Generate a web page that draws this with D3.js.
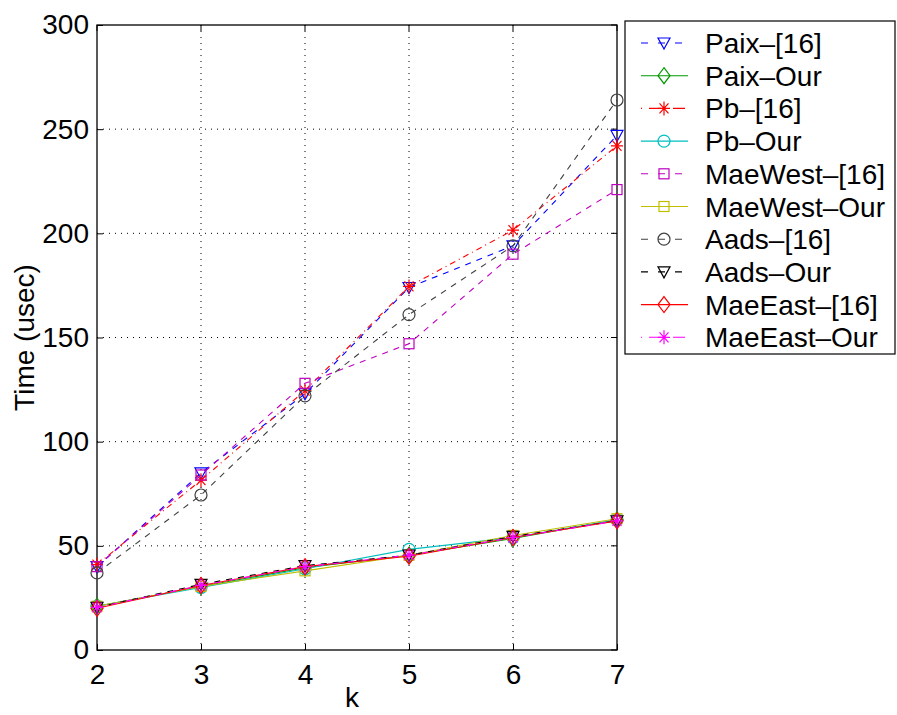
<!DOCTYPE html>
<html><head><meta charset="utf-8">
<script src="https://cdn.jsdelivr.net/npm/d3@7"></script>
<style>body{margin:0;background:#fff}svg{display:block}text{font-family:"Liberation Sans",Arial,sans-serif}</style>
</head><body><svg id="c" width="897" height="715"></svg>
<script>
const kValues = [2, 3, 4, 5, 6, 7];
const yTicks = [0, 50, 100, 150, 200, 250, 300];
const seriesNames = ["Paix\u2013[16]", "Paix\u2013Our", "Pb\u2013[16]", "Pb\u2013Our", "MaeWest\u2013[16]", "MaeWest\u2013Our", "Aads\u2013[16]", "Aads\u2013Our", "MaeEast\u2013[16]", "MaeEast\u2013Our"];
const paix16 = [40, 85, 123, 174, 194, 247];
const paixOur = [21, 30.5, 39.5, 45.5, 53.5, 62.5];
const pb16 = [41, 81.5, 124.5, 174.5, 201.5, 242];
const pbOur = [21, 30, 39, 48.3, 54, 62.5];
const maeWest16 = [40, 84, 128, 147, 190, 221];
const maeWestOur = [21, 30.5, 38, 45.5, 55, 63];
const aads16 = [37, 74.4, 122, 161, 194, 264];
const aadsOur = [20.5, 31.5, 40.5, 45.5, 54.5, 62];
const maeEast16 = [20, 31, 40, 45, 54, 62];
const maeEastOur = [20.5, 31, 40, 45.5, 54, 62];
const seriesValues = [paix16, paixOur, pb16, pbOur, maeWest16, maeWestOur, aads16, aadsOur, maeEast16, maeEastOur];
const seriesColors = ["#0000ff", "#009900", "#ff0000", "#00bfbf", "#bf00bf", "#bfbf00", "#404040", "#000000", "#ff0000", "#ff00ff"];
const seriesDash = ["6,6", null, "6,4,1,4", null, "6,6", null, "6,6", "6,6", null, "6,4,1,4"];
const seriesMarker = ["tri", "diamond", "star", "circle", "square", "square", "circle", "tri", "diamond", "star"];

const svg = d3.select("#c");
const L = 97, R = 617, T = 25, B = 650;
const x = d3.scaleLinear().domain([2, 7]).range([L, R]);
const y = d3.scaleLinear().domain([0, 300]).range([B, T]);
const FS = 28;

// grid
const g = svg.append("g");
g.selectAll(".gx").data(kValues.slice(1, -1)).join("line")
  .attr("x1", d => x(d)).attr("x2", d => x(d)).attr("y1", T).attr("y2", B)
  .attr("stroke", "#000").attr("stroke-width", 1).attr("stroke-dasharray", "1,5");
g.selectAll(".gy").data(yTicks.slice(1, -1)).join("line")
  .attr("x1", L).attr("x2", R).attr("y1", d => y(d)).attr("y2", d => y(d))
  .attr("stroke", "#000").attr("stroke-width", 1).attr("stroke-dasharray", "1,5");

// axes
const xAxis = d3.axisBottom(x).tickValues(kValues).tickFormat(d3.format("d")).tickSizeInner(-6).tickSizeOuter(0).tickPadding(14);
const yAxis = d3.axisLeft(y).tickValues(yTicks).tickSizeInner(-6).tickSizeOuter(0).tickPadding(8);
const ax = svg.append("g").attr("transform", `translate(0,${B})`).call(xAxis);
const ay = svg.append("g").attr("transform", `translate(${L},0)`).call(yAxis);
[ax, ay].forEach(a => {
  a.select(".domain").remove();
  a.selectAll("text").attr("font-size", FS).attr("fill", "#000").attr("font-family", "Liberation Sans, Arial, sans-serif");
  a.selectAll("line").attr("stroke", "#000");
});
// top/right ticks
svg.append("g").selectAll("line").data(kValues).join("line")
  .attr("x1", d => x(d)).attr("x2", d => x(d)).attr("y1", T).attr("y2", T + 6).attr("stroke", "#000");
svg.append("g").selectAll("line").data(yTicks).join("line")
  .attr("x1", R - 6).attr("x2", R).attr("y1", d => y(d)).attr("y2", d => y(d)).attr("stroke", "#000");
svg.append("rect").attr("x", L).attr("y", T).attr("width", R - L).attr("height", B - T)
  .attr("fill", "none").attr("stroke", "#000").attr("stroke-width", 1.3);

// marker drawing
function drawMarker(sel, type, color) {
  if (type === "tri") {
    sel.append("path").attr("d", "M-6,-5L6,-5L0,6Z").attr("fill", "none").attr("stroke", color).attr("stroke-width", 1.2);
  } else if (type === "diamond") {
    sel.append("path").attr("d", "M0,-8L6,0L0,8L-6,0Z").attr("fill", "none").attr("stroke", color).attr("stroke-width", 1.2);
  } else if (type === "circle") {
    sel.append("circle").attr("r", 6).attr("fill", "none").attr("stroke", color).attr("stroke-width", 1.2);
  } else if (type === "square") {
    sel.append("rect").attr("x", -5).attr("y", -5).attr("width", 10).attr("height", 10).attr("fill", "none").attr("stroke", color).attr("stroke-width", 1.2);
  } else if (type === "star") {
    sel.append("path").attr("d", "M-6,0L6,0M0,-7L0,7M-4.5,-5L4.5,5M-4.5,5L4.5,-5").attr("fill", "none").attr("stroke", color).attr("stroke-width", 1.2);
  }
}

const line = d3.line().x((d, i) => x(kValues[i])).y(d => y(d));
const plot = svg.append("g");
seriesValues.forEach((vals, si) => {
  const p = plot.append("path").datum(vals).attr("d", line).attr("fill", "none")
    .attr("stroke", seriesColors[si]).attr("stroke-width", 1.1);
  if (seriesDash[si]) p.attr("stroke-dasharray", seriesDash[si]);
  vals.forEach((v, i) => {
    const m = plot.append("g").attr("transform", `translate(${x(kValues[i])},${y(v)})`);
    drawMarker(m, seriesMarker[si], seriesColors[si]);
  });
});

// labels
svg.append("text").attr("x", 352).attr("y", 707).attr("text-anchor", "middle").attr("font-size", FS).text("k");
svg.append("text").attr("transform", `translate(34,${(T + B) / 2}) rotate(-90)`).attr("text-anchor", "middle").attr("font-size", FS).text("Time (usec)");

// legend
const lg = svg.append("g");
lg.append("rect").attr("x", 625).attr("y", 21).attr("width", 270).attr("height", 333)
  .attr("fill", "#fff").attr("stroke", "#000").attr("stroke-width", 1.2);
seriesNames.forEach((name, si) => {
  const cy = 43 + si * 32.7;
  const l = lg.append("line").attr("x1", 641).attr("x2", 688).attr("y1", cy).attr("y2", cy)
    .attr("stroke", seriesColors[si]).attr("stroke-width", 1.1);
  if (seriesDash[si]) l.attr("stroke-dasharray", seriesDash[si] === "6,6" ? "7,10" : "1,7,12,4").attr("stroke-dashoffset", 0);
  const m = lg.append("g").attr("transform", `translate(664,${cy})`);
  drawMarker(m, seriesMarker[si], seriesColors[si]);
  lg.append("text").attr("x", 705).attr("y", cy + 10).attr("font-size", FS).text(name);
});
</script></body></html>
